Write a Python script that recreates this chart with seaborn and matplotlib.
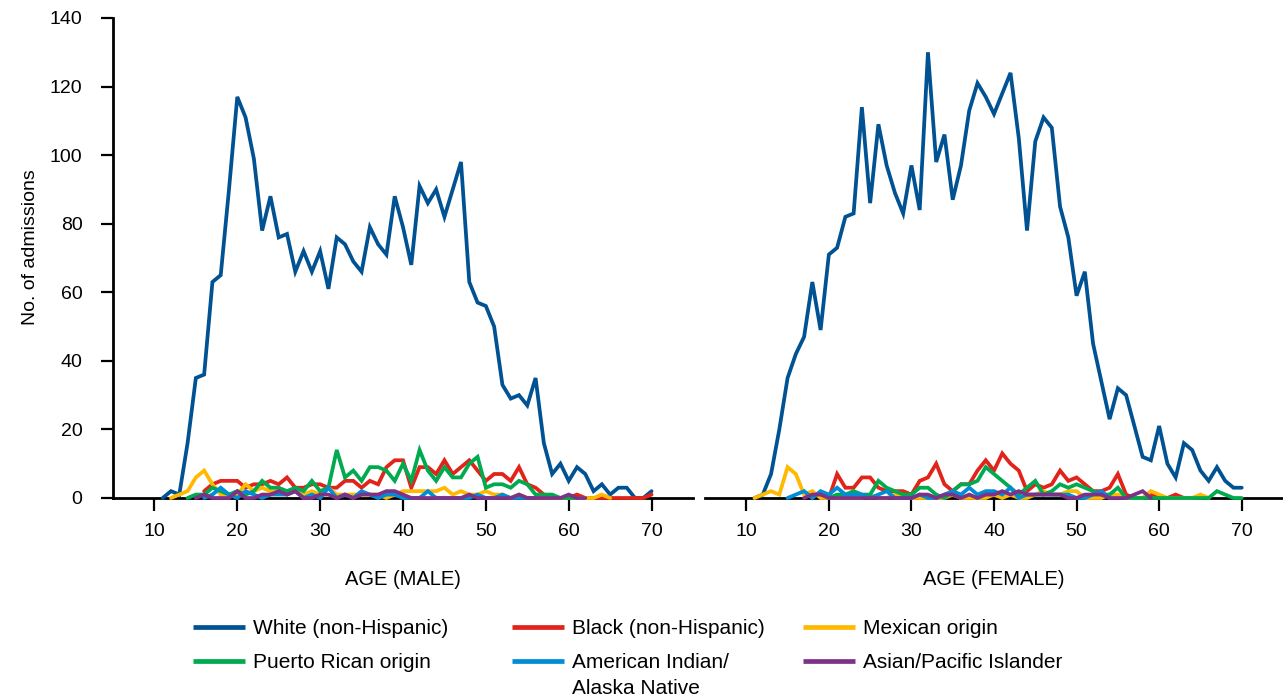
import numpy as np
import pandas as pd
import matplotlib
matplotlib.use("Agg")
import matplotlib.pyplot as plt
import seaborn as sns
from matplotlib.lines import Line2D

N = None

# ---------------- data (ages 11..70) ----------------
ages = list(range(11, 71))
groups = ["White (non-Hispanic)", "Black (non-Hispanic)", "Mexican origin",
          "Puerto Rican origin", "American Indian/\nAlaska Native", "Asian/Pacific Islander"]
colors = ["#005293", "#e2231a", "#ffb900", "#00aa4f", "#008cd6", "#7d3287"]
x_ticks = [10, 20, 30, 40, 50, 60, 70]
y_ticks = [0, 20, 40, 60, 80, 100, 120, 140]
panel_labels = ["AGE (MALE)", "AGE (FEMALE)"]
y_label = "No. of admissions"

white_m = [0, 2, 1, 16, 35, 36, 63, 65, 90, 117,
           111, 99, 78, 88, 76, 77, 66, 72, 66, 72,
           61, 76, 74, 69, 66, 79, 74, 71, 88, 79,
           68, 91, 86, 90, 82, 90, 98, 63, 57, 56,
           50, 33, 29, 30, 27, 35, 16, 7, 10, 5,
           9, 7, 2, 4, 1, 3, 3, 0, 0, 2]
black_m = [N, N, N, N, N, 2, 4, 5, 5, 5,
           3, 4, 4, 5, 4, 6, 3, 3, 4, 4,
           3, 3, 5, 5, 3, 5, 4, 9, 11, 11,
           3, 9, 9, 7, 11, 7, 9, 11, 8, 5,
           7, 7, 5, 9, 4, 3, 1, 0, 0, 0,
           1, 0, 0, 0, 0, 0, 0, 0, 0, 1]
mex_m = [N, 0, 1, 2, 6, 8, 4, 1, 1, 1,
         4, 2, 3, 2, 2, 1, 2, 1, 2, 1,
         3, 1, 1, 1, 1, 1, 1, 0, 1, 2,
         2, 2, 2, 2, 3, 1, 2, 1, 1, 2,
         1, 1, 0, 1, 0, 0, 0, 0, 0, 0,
         0, 0, 0, 1, 0, N, N, N, N, N]
pr_m = [N, N, N, 0, 1, 1, 3, 2, 1, 2,
        1, 2, 5, 3, 3, 2, 3, 2, 5, 2,
        3, 14, 6, 8, 5, 9, 9, 8, 5, 10,
        5, 14, 8, 5, 9, 6, 6, 10, 12, 3,
        4, 4, 3, 5, 4, 1, 1, 1, 0, 0,
        0, N, N, N, N, N, N, N, N, N]
ai_m = [N, N, N, N, N, 0, 1, 3, 1, 0,
        2, 1, 0, 1, 1, 1, 2, 0, 1, 0,
        3, 0, 1, 0, 2, 1, 0, 1, 1, 0,
        0, 0, 2, 0, 0, 0, 0, 0, 1, 0,
        0, 1, 0, 0, 0, 0, N, N, N, N,
        N, N, N, N, N, N, N, N, N, N]
asian_m = [N, N, N, N, 0, 1, 0, 0, 0, 2,
           0, 0, 1, 1, 2, 1, 2, 0, 0, 1,
           1, 0, 1, 0, 1, 1, 1, 2, 2, 1,
           0, 0, 0, 0, 0, 0, 0, 1, 0, 0,
           0, 0, 0, 1, 0, 0, 0, 0, 0, 1,
           0, 0, N, N, N, N, N, N, N, N]

white_f = [0, 1, 7, 20, 35, 42, 47, 63, 49, 71,
           73, 82, 83, 114, 86, 109, 97, 89, 83, 97,
           84, 130, 98, 106, 87, 97, 113, 121, 117, 112,
           118, 124, 105, 78, 104, 111, 108, 85, 76, 59,
           66, 45, 34, 23, 32, 30, 21, 12, 11, 21,
           10, 6, 16, 14, 8, 5, 9, 5, 3, 3]
black_f = [N, N, N, N, N, N, N, N, N, 0,
           7, 3, 3, 6, 6, 3, 2, 2, 2, 1,
           5, 6, 10, 4, 2, 4, 4, 8, 11, 8,
           13, 10, 8, 2, 4, 3, 4, 8, 5, 6,
           4, 2, 2, 3, 7, 1, 0, 0, 1, 0,
           0, 1, 0, 0, 0, N, N, N, N, N]
mex_f = [0, 1, 2, 1, 9, 7, 1, 2, 0, 0,
         0, 0, 0, 0, 1, 0, 0, 1, 0, 0,
         0, 0, 0, 0, 1, 0, 0, 0, 0, 1,
         0, 1, 0, 0, 1, 2, 1, 1, 2, 2,
         0, 0, 0, 1, 1, 0, 0, 0, 2, 1,
         0, 0, 0, 0, 1, 0, N, N, N, N]
pr_f = [N, N, N, N, N, N, N, N, N, 0,
        1, 1, 2, 1, 1, 5, 3, 2, 1, 1,
        3, 3, 1, 0, 2, 4, 4, 5, 9, 7,
        5, 3, 1, 3, 5, 1, 2, 4, 3, 4,
        3, 2, 1, 1, 3, 0, 0, 0, 0, 0,
        0, 0, 0, 0, 0, 0, 2, 1, 0, 0]
ai_f = [N, N, N, N, 0, 1, 2, 0, 2, 1,
        3, 1, 1, 1, 0, 1, 2, 0, 0, 0,
        1, 0, 0, 1, 2, 1, 3, 1, 2, 2,
        1, 3, 0, 1, 1, 1, 1, 1, 1, 0,
        0, 1, 2, 0, N, N, N, N, N, N,
        N, N, N, N, N, N, N, N, N, N]
asian_f = [N, N, N, N, N, N, 0, 1, 1, 0,
           0, 0, 0, 0, 0, 0, 0, 0, 0, 0,
           1, 1, 0, 1, 1, 0, 1, 0, 1, 1,
           2, 1, 2, 1, 1, 1, 1, 1, 0, 0,
           1, 1, 1, 0, 0, 0, 1, 2, 0, N,
           N, N, N, N, N, N, N, N, N, N]

male_series = [white_m, black_m, mex_m, pr_m, ai_m, asian_m]
female_series = [white_f, black_f, mex_f, pr_f, ai_f, asian_f]


def long_frame(series_list):
    rows = []
    for g, vals in zip(groups, series_list):
        for a, v in zip(ages, vals):
            if v is not None:
                rows.append((a, v, g))
    return pd.DataFrame(rows, columns=["age", "admissions", "group"])


df_m = long_frame(male_series)
df_f = long_frame(female_series)
palette = dict(zip(groups, colors))

# ---------------- style ----------------
sns.set_theme(style="white")
plt.rcParams["font.family"] = ["Liberation Sans", "DejaVu Sans"]
plt.rcParams["text.color"] = "black"
plt.rcParams["axes.labelcolor"] = "black"
plt.rcParams["xtick.color"] = "black"
plt.rcParams["ytick.color"] = "black"

W, H = 1283, 698
fig = plt.figure(figsize=(W / 100, H / 100), dpi=100)
axL = fig.add_axes([113 / W, 200 / H, 580 / W, 480 / H])
axR = fig.add_axes([705 / W, 200 / H, 578 / W, 480 / H])

for ax, df, lab in [(axL, df_m, panel_labels[0]), (axR, df_f, panel_labels[1])]:
    sns.lineplot(data=df, x="age", y="admissions", hue="group", hue_order=groups,
                 palette=palette, estimator=None, errorbar=None, legend=False,
                 linewidth=2.7, ax=ax)
    for ln in ax.lines:
        ln.set_zorder(3)
        ln.set_clip_on(False)
        ln.set_solid_joinstyle("miter")
    ax.set_xlim(5, 75)
    ax.set_ylim(0, 140)
    ax.set_xticks(x_ticks)
    ax.set_yticks(y_ticks)
    ax.set_xlabel(lab, fontsize=14.5, color="black")
    ax.xaxis.set_label_coords(0.5, -0.150)
    for s in ["top", "right"]:
        ax.spines[s].set_visible(False)
    for s in ["left", "bottom"]:
        ax.spines[s].set_linewidth(2.0)
        ax.spines[s].set_color("black")
        ax.spines[s].set_zorder(2)
    ax.tick_params(axis="x", direction="out", length=9, width=1.6, pad=9,
                   labelsize=14, colors="black", bottom=True)
    ax.tick_params(axis="y", direction="out", length=9, width=1.6, pad=13,
                   labelsize=14, colors="black", left=True)
    ax.grid(False)
    ax.set_facecolor("white")

axL.set_ylabel(y_label, fontsize=14, color="black")
axL.yaxis.set_label_coords(-0.128, 0.522)
axR.spines["left"].set_visible(False)
axR.tick_params(axis="y", left=False, labelleft=False)
axR.set_ylabel("")

# ---------------- legend (three columns) ----------------
handles = [Line2D([0], [0], color=c, lw=3.4, solid_capstyle="butt") for c in colors]
col_x = [193, 512, 803]
cols = [[0, 3], [1, 4], [2, 5]]
top_y = (H - 619) / H
legs = []
for cx, idx in zip(col_x, cols):
    leg = fig.legend([handles[i] for i in idx], [groups[i] for i in idx],
                     loc="upper left", bbox_to_anchor=(cx / W, top_y),
                     frameon=False, fontsize=15, handlelength=2.5,
                     handletextpad=0.4, labelspacing=0.72, borderpad=0,
                     borderaxespad=0, labelcolor="black")
    legs.append(leg)

# multi-line entry: wider line spacing and handle aligned with first line
ml_text = legs[1].get_texts()[1]
ml_text.set_linespacing(1.45)
ml_handle = legs[1].legend_handles[1]
ml_handle.set_ydata(np.asarray(ml_handle.get_ydata(), dtype=float) + 10.5)

fig.savefig("out.png", dpi=100, facecolor="white")
